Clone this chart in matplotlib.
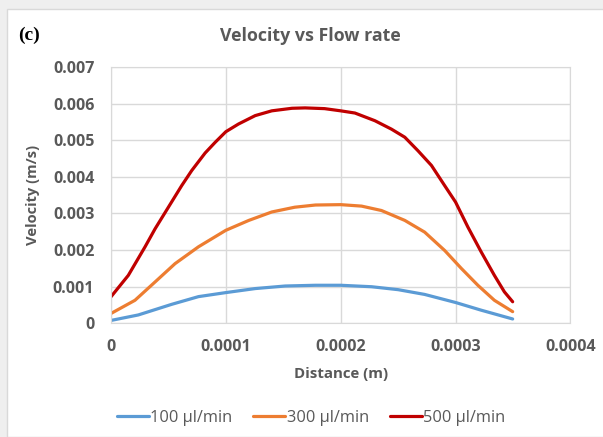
import numpy as np
import matplotlib
matplotlib.use("Agg")
import matplotlib.pyplot as plt
from matplotlib.patches import Rectangle

# distances (m) and velocities (m/s)
dist_500 = [0, 0.0000151, 0.0000297, 0.0000384, 0.00005, 0.0000616, 0.0000703, 0.000082,
            0.0000907, 0.0001, 0.000111, 0.0001256, 0.00014, 0.0001576, 0.000169, 0.000186,
            0.0002, 0.0002124, 0.0002298, 0.0002442, 0.0002558, 0.0002673, 0.000279,
            0.0002905, 0.0003, 0.0003107, 0.0003223, 0.0003338, 0.0003425, 0.0003497]
vel_500 = [0.000725, 0.00131, 0.00209, 0.00258, 0.00317, 0.00376, 0.00417, 0.00465,
           0.00494, 0.00523, 0.00544, 0.00567, 0.0058, 0.00587, 0.00588, 0.00586,
           0.0058, 0.00574, 0.00553, 0.0053, 0.00508, 0.00471, 0.00431,
           0.00376, 0.00331, 0.00263, 0.00195, 0.00131, 0.00086, 0.00059]

dist_300 = [0, 0.0000209, 0.0000384, 0.0000558, 0.0000762, 0.0001, 0.00012, 0.00014,
            0.00016, 0.000178, 0.0002, 0.0002182, 0.0002355, 0.0002558, 0.0002731,
            0.0002905, 0.000305, 0.0003194, 0.0003338, 0.0003497]
vel_300 = [0.00027, 0.00063, 0.00113, 0.00163, 0.00209, 0.00254, 0.00281, 0.00304,
           0.00317, 0.00323, 0.00324, 0.0032, 0.00308, 0.00281, 0.00249,
           0.00199, 0.0015, 0.00104, 0.00063, 0.00032]

dist_100 = [0, 0.0000238, 0.0000529, 0.0000762, 0.0001, 0.0001256, 0.0001517, 0.000178,
            0.0002, 0.0002269, 0.00025, 0.0002731, 0.0003, 0.0003223, 0.0003497]
vel_100 = [0.00008, 0.00023, 0.00052, 0.00073, 0.00084, 0.00095, 0.00102, 0.00104,
           0.00104, 0.001, 0.00092, 0.00079, 0.00057, 0.00036, 0.00012]

labels = ['100 µl/min', '300 µl/min', '500 µl/min']
colors = ['#5b9bd5', '#ed7d31', '#c00000']
xticks = [0, 0.0001, 0.0002, 0.0003, 0.0004]
xtick_labels = ['0', '0.0001', '0.0002', '0.0003', '0.0004']
yticks = [0, 0.001, 0.002, 0.003, 0.004, 0.005, 0.006, 0.007]
ytick_labels = ['0', '0.001', '0.002', '0.003', '0.004', '0.005', '0.006', '0.007']

plt.rcParams['font.family'] = ['Open Sans', 'DejaVu Sans']
txt = '#595959'

fig = plt.figure(figsize=(6.03, 4.37), dpi=100, facecolor='#efefef')
# white chart area inside the light grey screenshot margin
fig.patches.append(Rectangle((7 / 603, 0), 1, 1 - 9 / 437, transform=fig.transFigure,
                             facecolor='white', edgecolor='#d9d9d9', lw=1, zorder=-5))

ax = fig.add_axes([0.184, 0.26, 0.762, 0.587])
ax.set_facecolor('none')

ax.plot(dist_100, vel_100, color=colors[0], lw=2.3, label=labels[0], solid_capstyle='round')
ax.plot(dist_300, vel_300, color=colors[1], lw=2.3, label=labels[1], solid_capstyle='round')
ax.plot(dist_500, vel_500, color=colors[2], lw=2.3, label=labels[2], solid_capstyle='round')

ax.set_xlim(0, 0.0004)
ax.set_ylim(0, 0.007)
ax.set_xticks(xticks)
ax.set_xticklabels(xtick_labels)
ax.set_yticks(yticks)
ax.set_yticklabels(ytick_labels)
ax.tick_params(length=0, labelsize=11.5, labelcolor=txt)
ax.tick_params(axis='y', pad=12)
ax.tick_params(axis='x', pad=11)
for lab in ax.get_xticklabels() + ax.get_yticklabels():
    lab.set_fontweight('bold')
ax.grid(True, color='#d9d9d9', lw=1)
ax.set_axisbelow(True)
for s in ax.spines.values():
    s.set_color('#d9d9d9')

ax.set_xlabel('Distance (m)', fontsize=10.8, fontweight='bold', color=txt, labelpad=9)
ax.set_ylabel('Velocity (m/s)', fontsize=10.6, fontweight='bold', color=txt, labelpad=9)

fig.text(0.515, 0.918, 'Velocity vs Flow rate', ha='center', va='center',
         fontsize=12.8, fontweight='bold', color=txt)
fig.text(0.03, 0.92, '(c)', ha='left', va='center', fontsize=14, fontweight='bold',
         family=['Liberation Serif'], color='black')

fig.legend(loc='center', bbox_to_anchor=(0.516, 0.043), ncol=3, frameon=False,
           fontsize=11.8, handlelength=1.95, handletextpad=0.1, columnspacing=1.25,
           labelcolor=txt)

fig.savefig('out.png', dpi=100, facecolor=fig.get_facecolor())
